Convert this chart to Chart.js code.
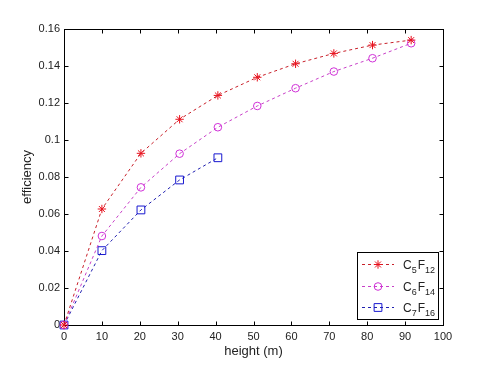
<!DOCTYPE html>
<html lang="en">
<head>
<meta charset="UTF-8">
<title>efficiency vs height</title>
<script src="https://cdn.jsdelivr.net/npm/chart.js"></script>
<style>
  html, body { margin: 0; padding: 0; background: #fff; }
  #wrap { width: 493px; height: 369px; position: relative; }
</style>
</head>
<body>
<div id="wrap"><canvas id="chart"></canvas></div>
<script>
// values
const heightC5 = [0, 10, 20.3, 30.5, 40.6, 51, 61.1, 71.2, 81.4, 91.6];
const effC5 = [0, 0.0627, 0.0928, 0.1112, 0.1241, 0.1339, 0.1412, 0.1468, 0.1513, 0.1540];
const heightC6 = [0, 10, 20.3, 30.5, 40.6, 51, 61.1, 71.2, 81.4, 91.6];
const effC6 = [0, 0.0481, 0.0744, 0.0926, 0.1069, 0.1184, 0.1280, 0.1370, 0.1442, 0.1523];
const heightC7 = [0, 10, 20.3, 30.5, 40.6];
const effC7 = [0, 0.0402, 0.0622, 0.0784, 0.0904];

const xTicks = [0, 10, 20, 30, 40, 50, 60, 70, 80, 90, 100];
const yTicks = [0, 0.02, 0.04, 0.06, 0.08, 0.1, 0.12, 0.14, 0.16];

// legend entries: base text, subscript pairs
const legendItems = [
  { parts: [['C', '5'], ['F', '12']] },
  { parts: [['C', '6'], ['F', '14']] },
  { parts: [['C', '7'], ['F', '16']] }
];

function pts(xs, ys) {
  return xs.map((x, i) => ({ x: x, y: ys[i] }));
}

const txt = '#222';
const fontFam = '"Liberation Sans", Arial, sans-serif';

// box frame, inward ticks on all four sides, and the legend
const framePlugin = {
  id: 'frame',
  beforeDatasetsDraw(chart) {
    const ctx = chart.ctx;
    const a = chart.chartArea;
    const xs = chart.scales.x, ys = chart.scales.y;
    const L = Math.round(a.left) + 0.5, R = Math.round(a.right) + 0.5;
    const T = Math.round(a.top) + 0.5, B = Math.round(a.bottom) + 0.5;
    ctx.save();
    ctx.strokeStyle = '#000';
    ctx.lineWidth = 1;
    ctx.setLineDash([]);
    ctx.strokeRect(L, T, R - L, B - T);
    ctx.beginPath();
    xTicks.forEach(v => {
      const px = Math.round(xs.getPixelForValue(v)) + 0.5;
      ctx.moveTo(px, B); ctx.lineTo(px, B - 4);
      ctx.moveTo(px, T); ctx.lineTo(px, T + 4);
    });
    yTicks.forEach(v => {
      const py = Math.round(ys.getPixelForValue(v)) + 0.5;
      ctx.moveTo(L, py); ctx.lineTo(L + 4, py);
      ctx.moveTo(R, py); ctx.lineTo(R - 4, py);
    });
    ctx.stroke();
    ctx.restore();
  },
  afterDraw(chart) {
    const ctx = chart.ctx;
    ctx.save();
    ctx.strokeStyle = '#000';
    ctx.lineWidth = 1;
    // legend box
    const bx = 357.5, by = 252.5, bw = 81, bh = 67;
    ctx.fillStyle = '#fff';
    ctx.fillRect(bx, by, bw, bh);
    ctx.strokeRect(bx, by, bw, bh);
    const rowsY = [264, 286, 307];
    chart.data.datasets.forEach((ds, i) => {
      const y = rowsY[i] + 0.5;
      ctx.strokeStyle = ds.borderColor;
      ctx.lineWidth = 1;
      ctx.setLineDash([3, 3]);
      ctx.beginPath();
      ctx.moveTo(362, y); ctx.lineTo(394, y);
      ctx.stroke();
      ctx.setLineDash([]);
      ctx.strokeStyle = ds.pointBorderColor;
      ctx.fillStyle = 'rgba(0,0,0,0)';
      Chart.helpers.drawPoint(ctx, {
        pointStyle: ds.pointStyle, radius: ds.pointRadius, borderWidth: 1
      }, 378, y);
      ctx.fillStyle = txt;
      ctx.textBaseline = 'alphabetic';
      ctx.textAlign = 'left';
      let tx = 403;
      legendItems[i].parts.forEach(p => {
        ctx.font = '12px ' + fontFam;
        ctx.fillText(p[0], tx, y + 4);
        tx += ctx.measureText(p[0]).width;
        ctx.font = '9px ' + fontFam;
        ctx.fillText(p[1], tx, y + 8);
        tx += ctx.measureText(p[1]).width + 1;
      });
    });
    ctx.restore();
  }
};

const lineOpts = { showLine: true, clip: false, borderWidth: 1, borderDash: [3, 3], tension: 0, pointBorderWidth: 1, pointBackgroundColor: 'rgba(0,0,0,0)' };

new Chart(document.getElementById('chart'), {
  type: 'scatter',
  data: {
    datasets: [
      Object.assign({ label: 'C5F12', data: pts(heightC5, effC5), borderColor: '#c8202a', pointBorderColor: '#e8101c', pointStyle: 'star', pointRadius: 4.2 }, lineOpts),
      Object.assign({ label: 'C6F14', data: pts(heightC6, effC6), borderColor: '#c840c8', pointBorderColor: '#d030d8', pointStyle: 'circle', pointRadius: 3.8 }, lineOpts),
      Object.assign({ label: 'C7F16', data: pts(heightC7, effC7), borderColor: '#2020b0', pointBorderColor: '#1818d0', pointStyle: 'rect', pointRadius: 5.5 }, lineOpts)
    ]
  },
  options: {
    responsive: true,
    maintainAspectRatio: false,
    animation: false,
    layout: { padding: { left: 0, right: 50, top: 29, bottom: 0 } },
    plugins: { legend: { display: false }, tooltip: { enabled: false } },
    scales: {
      x: {
        type: 'linear', min: 0, max: 100,
        afterFit(s) { s.height = 44; },
        afterBuildTicks(s) { s.ticks = xTicks.map(v => ({ value: v })); },
        grid: { display: false, drawTicks: false },
        border: { display: false },
        ticks: { color: txt, padding: 5, font: { size: 11, family: fontFam }, maxRotation: 0 },
        title: { display: true, text: 'height (m)', color: txt, font: { size: 13, family: fontFam }, padding: { top: 0, bottom: 10 } }
      },
      y: {
        type: 'linear', min: 0, max: 0.16,
        afterFit(s) { s.width = 64; },
        afterBuildTicks(s) { s.ticks = yTicks.map(v => ({ value: v })); },
        grid: { display: false, drawTicks: false },
        border: { display: false },
        ticks: { color: txt, padding: 4, font: { size: 11, family: fontFam }, callback: v => String(+v.toFixed(2)) },
        title: { display: true, text: 'efficiency', color: txt, font: { size: 13, family: fontFam }, padding: { top: 20, bottom: 0 } }
      }
    }
  },
  plugins: [framePlugin]
});
</script>
</body>
</html>
